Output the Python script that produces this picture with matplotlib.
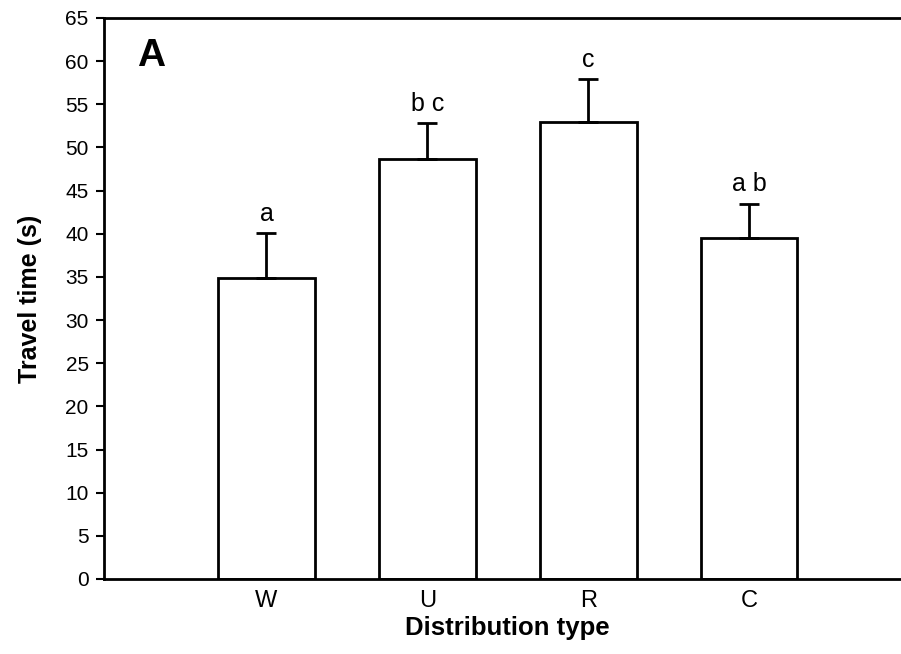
import numpy as np
import matplotlib
matplotlib.use('Agg')
import matplotlib.pyplot as plt

plt.rcParams['font.family'] = ['Liberation Sans', 'DejaVu Sans']

# Date
categories = ['W', 'U', 'R', 'C']
means = [34.9, 48.7, 52.9, 39.5]
errors = [5.2, 4.1, 5.0, 4.0]
letters = ['a', 'b c', 'c', 'a b']

fig = plt.figure(figsize=(9.01, 6.54), dpi=100)
ax = fig.add_axes([104 / 901, 1 - 579 / 654, 806 / 901, 561 / 654])

x = np.arange(len(categories))
ax.bar(x, means, width=0.6, color='white', edgecolor='black', linewidth=2)
ax.errorbar(x, means, yerr=[np.zeros(len(errors)), errors], fmt='none',
            ecolor='black', elinewidth=2, capsize=7, capthick=2)

for xi, m, e, lab in zip(x, means, errors, letters):
    ax.text(xi, m + e + 1.4, lab, ha='center', va='baseline', fontsize=18)

ax.text(0.041, 0.965, 'A', transform=ax.transAxes, fontsize=28,
        fontweight='bold', ha='left', va='top')

ax.set_xlim(-1.01, 4.0)
ax.set_ylim(0, 65)
ax.set_yticks(np.arange(0, 66, 5))
ax.set_xticks(x)
ax.set_xticklabels(categories, fontsize=17)
ax.tick_params(axis='x', length=0, pad=8)
ax.tick_params(axis='y', labelsize=15, length=6, width=1.5, pad=5, direction='out')
for s in ['left', 'bottom', 'top']:
    ax.spines[s].set_linewidth(2)
ax.spines['right'].set_visible(False)

ax.set_xlabel('Distribution type', fontsize=18.5, fontweight='bold', labelpad=3)
ax.set_ylabel('Travel time (s)', fontsize=18, fontweight='bold', labelpad=17)

plt.savefig('out.png', dpi=100)
